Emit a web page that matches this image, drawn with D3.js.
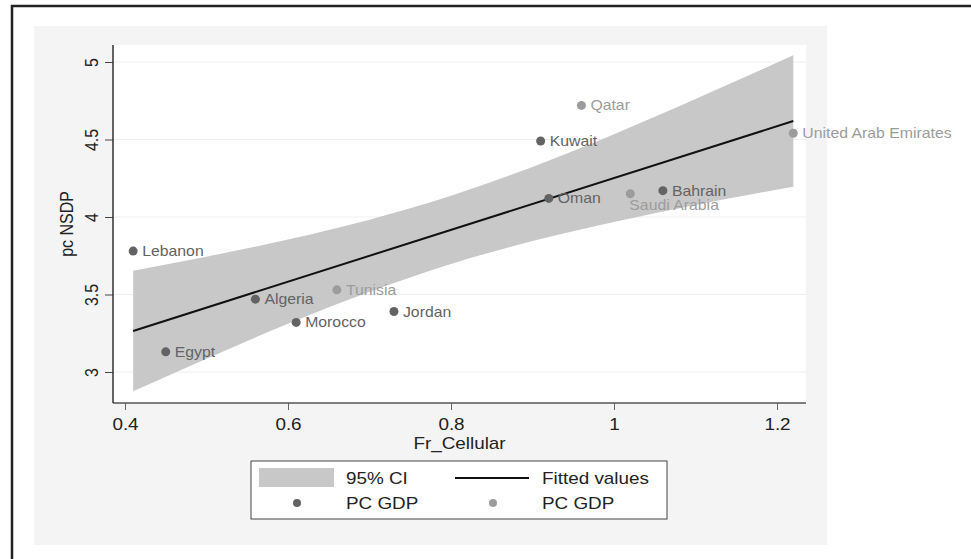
<!DOCTYPE html>
<html>
<head>
<meta charset="utf-8">
<script src="https://cdn.jsdelivr.net/npm/d3@7"></script>
<style>
  body { margin: 0; background: #fff; }
  svg { display: block; font-family: "Liberation Sans", Arial, sans-serif; }
</style>
</head>
<body>
<div id="chart"></div>
<script>
      // data
      var countries = ["Lebanon", "Egypt", "Algeria", "Morocco", "Tunisia", "Jordan",
                       "Kuwait", "Qatar", "Oman", "Saudi Arabia", "Bahrain", "United Arab Emirates"];
      var frCellular = [0.41, 0.45, 0.56, 0.61, 0.66, 0.73, 0.91, 0.96, 0.92, 1.02, 1.06, 1.22];
      var pcNSDP = [3.78, 3.13, 3.47, 3.32, 3.53, 3.39, 4.49, 4.72, 4.12, 4.15, 4.17, 4.54];
      var series = [0, 0, 0, 0, 1, 0, 0, 1, 0, 1, 0, 1];   // 0 = first PC GDP, 1 = second

      // fitted line and 95% CI band
      var fitX = [0.41, 1.22];
      var fitY = [3.265, 4.619];
      var ciX  = [0.41, 0.5, 0.6, 0.7, 0.8, 0.9, 1.0, 1.1, 1.22];
      var ciLo = [2.876, 3.086, 3.311, 3.517, 3.697, 3.845, 3.968, 4.077, 4.195];
      var ciHi = [3.654, 3.744, 3.855, 3.983, 4.137, 4.323, 4.534, 4.761, 5.043];

      var xTicks = [0.4, 0.6, 0.8, 1, 1.2];
      var yTicks = [3, 3.5, 4, 4.5, 5];

      var legendLabels = ["95% CI", "Fitted values", "PC GDP", "PC GDP"];

      var colors = ["#636363", "#9c9c9c"];
      var sx = 1.18;  // text in the picture is a little wide
      var fmt = function(d) { return String(+d.toFixed(1)); };

      var W = 971, H = 559;
      var plot = {left: 113, right: 806, top: 45, bottom: 403};

      var svg = d3.select("#chart").append("svg")
          .attr("width", W)
          .attr("height", H);

      // outer frame (top + left only)
      svg.append("path")
          .attr("d", "M12,559 L12,6 L971,6")
          .attr("fill", "none")
          .attr("stroke", "#222")
          .attr("stroke-width", 2.5);

      // graph region
      svg.append("rect")
          .attr("x", 34).attr("y", 26)
          .attr("width", 827 - 34).attr("height", 545 - 26)
          .attr("fill", "#f4f4f4");

      svg.append("rect")
          .attr("x", plot.left).attr("y", plot.top)
          .attr("width", plot.right - plot.left).attr("height", plot.bottom - plot.top)
          .attr("fill", "#fff");

      ////// scales //////
      var xScale = d3.scaleLinear().domain([0.4, 1.2]).range([125, 777]);
      var yScale = d3.scaleLinear().domain([3, 5]).range([372, 62]);

      // grid
      svg.append("g")
          .selectAll("line")
          .data(yTicks)
          .enter()
          .append("line")
          .attr("x1", plot.left).attr("x2", plot.right)
          .attr("y1", function(d) { return yScale(d); })
          .attr("y2", function(d) { return yScale(d); })
          .attr("stroke", "#efefef")
          .attr("stroke-width", 1.2);

      // CI band
      var band = d3.area()
          .x(function(d, i) { return xScale(ciX[i]); })
          .y0(function(d, i) { return yScale(ciLo[i]); })
          .y1(function(d, i) { return yScale(ciHi[i]); })
          .curve(d3.curveMonotoneX);

      svg.append("path")
          .datum(ciX)
          .attr("d", band)
          .attr("fill", "#c8c8c8");

      // fitted line
      svg.append("line")
          .attr("x1", xScale(fitX[0])).attr("y1", yScale(fitY[0]))
          .attr("x2", xScale(fitX[1])).attr("y2", yScale(fitY[1]))
          .attr("stroke", "#111")
          .attr("stroke-width", 2);

      ////// axes //////
      var xAxis = d3.axisBottom(xScale)
          .tickValues(xTicks)
          .tickSize(7)
          .tickSizeOuter(0)
          .tickFormat(fmt);

      var gx = svg.append("g")
          .attr("class", "x axis")
          .attr("transform", "translate(0," + plot.bottom + ")")
          .call(xAxis);
      gx.select(".domain").remove();
      gx.selectAll("line").attr("stroke", "#666");
      gx.selectAll("text")
          .attr("y", null).attr("dy", null)
          .attr("font-size", 16)
          .attr("fill", "#222")
          .attr("transform", "translate(0,27) scale(" + sx + ",1)");

      var yAxis = d3.axisLeft(yScale)
          .tickValues(yTicks)
          .tickSize(8)
          .tickSizeOuter(0)
          .tickFormat(fmt);

      var gy = svg.append("g")
          .attr("class", "y axis")
          .attr("transform", "translate(" + plot.left + ",0)")
          .call(yAxis);
      gy.select(".domain").remove();
      gy.selectAll("line").attr("stroke", "#444");
      gy.selectAll("text")
          .attr("x", null).attr("dy", null)
          .attr("text-anchor", "middle")
          .attr("font-size", 16)
          .attr("fill", "#222")
          .attr("transform", "translate(-15,0) scale(" + sx + ",1) rotate(-90)");

      svg.append("line")
          .attr("x1", plot.left).attr("x2", plot.right)
          .attr("y1", plot.bottom).attr("y2", plot.bottom)
          .attr("stroke", "#555").attr("stroke-width", 1.5);
      svg.append("line")
          .attr("x1", plot.left).attr("x2", plot.left)
          .attr("y1", plot.top).attr("y2", plot.bottom)
          .attr("stroke", "#333").attr("stroke-width", 1.5);

      // axis titles
      svg.append("text")
          .attr("text-anchor", "middle")
          .attr("font-size", 16)
          .attr("fill", "#222")
          .attr("transform", "translate(" + ((plot.left + plot.right) / 2) + ",449) scale(" + sx + ",1)")
          .text("Fr_Cellular");

      svg.append("text")
          .attr("text-anchor", "middle")
          .attr("font-size", 16)
          .attr("fill", "#222")
          .attr("transform", "translate(73," + ((plot.top + plot.bottom) / 2) + ") scale(" + sx + ",1) rotate(-90)")
          .text("pc NSDP");

      ////// points + labels //////
      var pts = svg.append("g").attr("id", "points");

      pts.selectAll("circle")
          .data(countries)
          .enter()
          .append("circle")
          .attr("cx", function(d, i) { return xScale(frCellular[i]); })
          .attr("cy", function(d, i) { return yScale(pcNSDP[i]); })
          .attr("r", 4.5)
          .attr("fill", function(d, i) { return colors[series[i]]; });

      pts.selectAll("text")
          .data(countries)
          .enter()
          .append("text")
          .attr("font-size", 14)
          .attr("fill", function(d, i) { return colors[series[i]]; })
          .attr("transform", function(d, i) {
              var px = xScale(frCellular[i]), py = yScale(pcNSDP[i]);
              if (d == "Saudi Arabia") {
                  return "translate(" + (px - 1) + "," + (py + 16) + ") scale(1.13,1)";
              }
              return "translate(" + (px + 9) + "," + (py + 5) + ") scale(1.13,1)";
          })
          .text(function(d) { return d; });

      ////// legend //////
      var lg = svg.append("g").attr("id", "legend");

      lg.append("rect")
          .attr("x", 251).attr("y", 461)
          .attr("width", 416).attr("height", 58)
          .attr("fill", "#fff")
          .attr("stroke", "#444")
          .attr("stroke-width", 1);

      lg.append("rect")
          .attr("x", 259).attr("y", 468)
          .attr("width", 75).attr("height", 19)
          .attr("fill", "#c8c8c8");

      lg.append("line")
          .attr("x1", 455).attr("x2", 529)
          .attr("y1", 478).attr("y2", 478)
          .attr("stroke", "#111").attr("stroke-width", 2);

      lg.append("circle").attr("cx", 297).attr("cy", 503).attr("r", 4).attr("fill", colors[0]);
      lg.append("circle").attr("cx", 493).attr("cy", 503).attr("r", 4).attr("fill", colors[1]);

      var legendPos = [[346, 484], [542, 484], [346, 509], [542, 509]];
      lg.selectAll("text.lab")
          .data(legendLabels)
          .enter()
          .append("text")
          .attr("class", "lab")
          .attr("font-size", 16)
          .attr("fill", "#222")
          .attr("transform", function(d, i) {
              return "translate(" + legendPos[i][0] + "," + legendPos[i][1] + ") scale(" + sx + ",1)";
          })
          .text(function(d) { return d; });
</script>
</body>
</html>
